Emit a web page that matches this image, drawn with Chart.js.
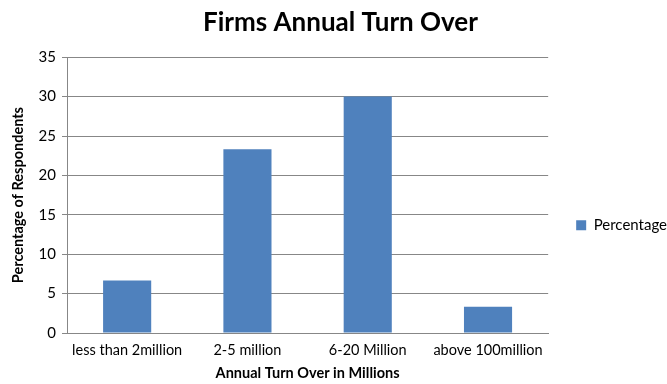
<!DOCTYPE html>
<html>
<head>
<meta charset="utf-8">
<script src="https://cdn.jsdelivr.net/npm/chart.js@4"></script>
<style>
  html, body { margin: 0; padding: 0; background: #fff; }
  #wrap { width: 667px; height: 384px; }
</style>
</head>
<body>
<div id="wrap"><canvas id="turnover-chart" width="667" height="384"></canvas></div>
<script>
// turnover bands and share of respondents (%)
const categories = ['less than 2million', '2-5 million', '6-20 Million', 'above 100million'];
const percentage = [6.67, 23.33, 30, 3.33];
const seriesName = 'Percentage';

const FONT = 'Lato, "Liberation Sans", sans-serif';
const GRID = '#878787';

document.addEventListener("DOMContentLoaded", () => {
  const ctx = document.getElementById('turnover-chart').getContext('2d');

  new Chart(ctx, {
    type: 'bar',
    data: {
      labels: categories,
      datasets: [{
        label: seriesName,
        data: percentage,
        backgroundColor: '#4f81bd',
        barPercentage: 0.4,
        categoryPercentage: 1.0
      }]
    },
    options: {
      responsive: false,
      animation: false,
      layout: { padding: { left: 4, right: -10, top: 0, bottom: 2 } },
      plugins: {
        title: {
          display: true,
          text: 'Firms Annual Turn Over',
          color: '#000',
          font: { family: FONT, size: 26, weight: 'bold' },
          padding: { top: 7, bottom: 19 }
        },
        legend: {
          position: 'right',
          // empty title only pushes the entry down a bit
          title: { display: true, text: ' ', font: { size: 12 }, padding: { top: 0, bottom: 54 } },
          labels: {
            color: '#000',
            font: { family: FONT, size: 15 },
            boxWidth: 10,
            boxHeight: 10,
            padding: 28
          }
        },
        tooltip: { enabled: false }
      },
      scales: {
        x: {
          afterFit: (s) => { s.height = 49; },
          grid: { display: false },
          border: { display: true, color: GRID },
          ticks: { color: '#000', font: { family: FONT, size: 14.5 }, padding: 1, maxRotation: 0 },
          title: {
            display: true,
            text: 'Annual Turn Over in Millions',
            color: '#000',
            font: { family: FONT, size: 14.5, weight: 'bold' },
            padding: { top: 4, bottom: 0 }
          }
        },
        y: {
          min: 0,
          max: 35,
          afterFit: (s) => { s.width = 63; },
          ticks: { stepSize: 5, color: '#000', font: { family: FONT, size: 15 }, padding: 6 },
          grid: { color: GRID, tickLength: 5, drawTicks: true },
          border: { display: true, color: GRID },
          title: {
            display: true,
            text: 'Percentage of Respondents',
            color: '#000',
            font: { family: FONT, size: 14.5, weight: 'bold' },
            padding: { top: 6, bottom: 6 }
          }
        }
      }
    }
  });
});
</script>
</body>
</html>
